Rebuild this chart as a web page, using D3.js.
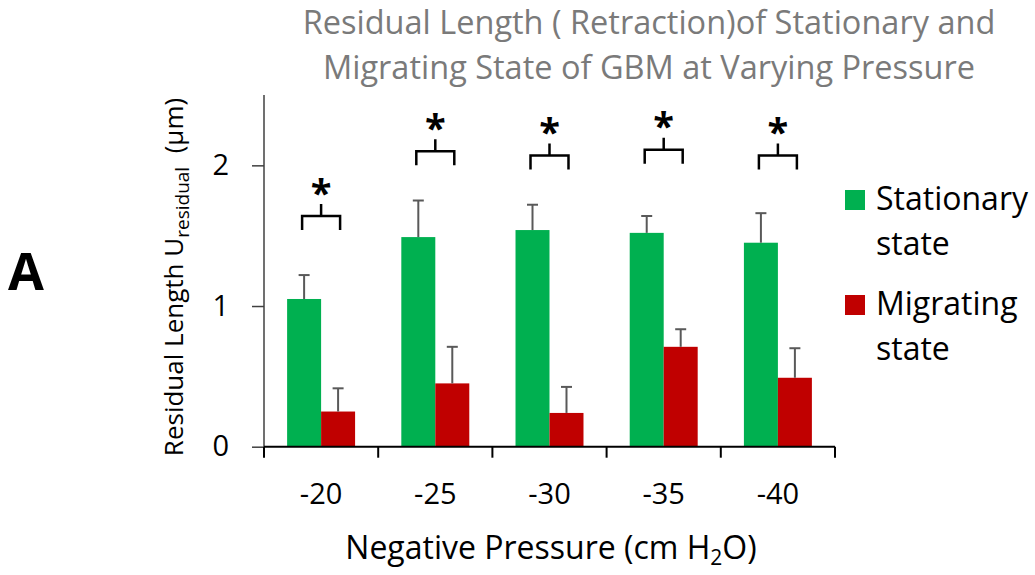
<!DOCTYPE html>
<html>
<head>
<meta charset="utf-8">
<script src="https://cdn.jsdelivr.net/npm/d3@7/dist/d3.min.js"></script>
<style>
  html, body { margin: 0; padding: 0; background: #fff; }
  svg { display: block; }
  text { font-family: "Open Sans", Lato, sans-serif; }
</style>
</head>
<body>
<svg id="chart" width="1035" height="575"></svg>
<script>
// Pressure levels (cm H2O) and per-state mean residual length with error (µm)
const categories = ["-20", "-25", "-30", "-35", "-40"];
const seriesNames = ["Stationary state", "Migrating state"];
const stationary = [1.05, 1.49, 1.54, 1.52, 1.45];
const stationaryErr = [0.17, 0.26, 0.18, 0.12, 0.21];
const migrating = [0.25, 0.45, 0.24, 0.71, 0.49];
const migratingErr = [0.165, 0.26, 0.185, 0.125, 0.21];
// Height of each significance bracket, in axis units
const bracketLevel = [1.64, 2.10, 2.07, 2.11, 2.07];
const yTicks = [0, 1, 2];

const colors = ["#00B050", "#C00000"];
const svg = d3.select("#chart");

const plotLeft = 264, plotRight = 835, plotTop = 95, plotBottom = 446.7;

const x = d3.scaleBand().domain(categories).range([plotLeft, plotRight]).paddingInner(0).paddingOuter(0);
const inner = d3.scaleBand().domain(seriesNames).range([0, x.bandwidth()]).paddingInner(0).paddingOuter(0.68);
const y = d3.scaleLinear().domain([0, 2.5]).range([plotBottom, plotTop]);

const rows = categories.map((c, i) => ({
  cat: c,
  vals: [
    { s: seriesNames[0], v: stationary[i], e: stationaryErr[i], c: colors[0] },
    { s: seriesNames[1], v: migrating[i], e: migratingErr[i], c: colors[1] }
  ],
  bracket: bracketLevel[i]
}));

// Bars
const g = svg.append("g");
rows.forEach(r => {
  r.vals.forEach(d => {
    g.append("rect")
      .attr("x", x(r.cat) + inner(d.s)).attr("y", y(d.v))
      .attr("width", inner.bandwidth()).attr("height", y(0) - y(d.v))
      .attr("fill", d.c);
  });
});

// Error bars (upper only)
rows.forEach(r => {
  r.vals.forEach(d => {
    const cx = x(r.cat) + inner(d.s) + inner.bandwidth() / 2;
    g.append("line").attr("x1", cx).attr("x2", cx)
      .attr("y1", y(d.v)).attr("y2", y(d.v + d.e))
      .attr("stroke", "#595959").attr("stroke-width", 2);
    g.append("line").attr("x1", cx - 5.5).attr("x2", cx + 5.5)
      .attr("y1", y(d.v + d.e)).attr("y2", y(d.v + d.e))
      .attr("stroke", "#595959").attr("stroke-width", 2);
  });
});

// Significance brackets with asterisks
rows.forEach(r => {
  const x0 = x(r.cat) + inner(seriesNames[0]) + inner.bandwidth() / 2 - 2;
  const x1 = x(r.cat) + inner(seriesNames[1]) + inner.bandwidth() / 2 + 2;
  const yb = y(r.bracket);
  const mid = (x0 + x1) / 2;
  g.append("path")
    .attr("d", `M${x0},${yb + 14}V${yb}H${x1}V${yb + 14}M${mid},${yb}V${yb - 12}`)
    .attr("fill", "none").attr("stroke", "#000").attr("stroke-width", 2.5);
  g.append("text").attr("x", mid).attr("y", yb - 14)
    .attr("text-anchor", "middle").attr("font-size", 38).attr("font-weight", 700)
    .attr("font-family", "Lato, sans-serif")
    .attr("dy", "0.62em").attr("transform", `translate(0,-19)`)
    .text("*");
});

// Y axis
const yAxis = svg.append("g").attr("transform", `translate(${plotLeft},0)`)
  .call(d3.axisLeft(y).tickValues(yTicks).tickFormat(d3.format("d")).tickSize(12).tickPadding(23));
yAxis.select(".domain").attr("d", `M0,${plotTop}V${plotBottom}`).attr("stroke", "#404040").attr("stroke-width", 1.5);
yAxis.selectAll(".tick line").attr("stroke", "#404040").attr("stroke-width", 1.5);
yAxis.selectAll(".tick text").attr("font-size", 29).attr("fill", "#000").attr("font-family", "'Open Sans', sans-serif");

// X axis with ticks at category boundaries
const xAxis = svg.append("g").attr("transform", `translate(0,${plotBottom})`);
xAxis.append("line").attr("x1", plotLeft).attr("x2", plotRight).attr("y1", 0).attr("y2", 0)
  .attr("stroke", "#000").attr("stroke-width", 2);
const boundaries = categories.map(c => x(c)).concat([plotRight]);
xAxis.selectAll("line.tk").data(boundaries).enter().append("line")
  .attr("class", "tk").attr("x1", d => d).attr("x2", d => d).attr("y1", 0).attr("y2", 11)
  .attr("stroke", "#000").attr("stroke-width", 2);
xAxis.selectAll("text.lbl").data(categories).enter().append("text")
  .attr("class", "lbl").attr("x", d => x(d) + x.bandwidth() / 2).attr("y", 57)
  .attr("text-anchor", "middle").attr("font-size", 29).attr("fill", "#000").text(d => d);

// Axis titles
const xt = svg.append("text").attr("x", 551).attr("y", 559).attr("text-anchor", "middle")
  .attr("font-size", 32).attr("fill", "#000");
xt.append("tspan").text("Negative Pressure (cm H");
xt.append("tspan").attr("font-size", 21).attr("dy", 6).text("2");
xt.append("tspan").attr("dy", -6).text("O)");

const yt = svg.append("text").attr("transform", "translate(183,277) rotate(-90)")
  .attr("text-anchor", "middle").attr("font-size", 26).attr("fill", "#000");
yt.append("tspan").text("Residual Length U");
yt.append("tspan").attr("font-size", 19).attr("dy", 6).text("residual");
yt.append("tspan").attr("dy", -6).text("\u00a0\u00a0(\u03bcm)");

// Title
const title = svg.append("text").attr("text-anchor", "middle").attr("font-size", 32.5).attr("fill", "#7a7a7a");
title.append("tspan").attr("x", 649).attr("y", 34).text("Residual Length ( Retraction)of Stationary and");
title.append("tspan").attr("x", 649).attr("y", 79).text("Migrating State of GBM at Varying Pressure");

// Legend
const legendItems = [
  { lines: ["Stationary", "state"], c: colors[0], y0: 190 },
  { lines: ["Migrating", "state"], c: colors[1], y0: 295 }
];
legendItems.forEach(it => {
  svg.append("rect").attr("x", 845).attr("y", it.y0).attr("width", 20).attr("height", 20).attr("fill", it.c);
  it.lines.forEach((t, k) => {
    svg.append("text").attr("x", 876).attr("y", it.y0 + 20 + k * 45)
      .attr("font-size", 32).attr("fill", "#000").text(t);
  });
});

// Panel letter
svg.append("text").attr("x", 8).attr("y", 290).attr("font-size", 52).attr("font-weight", 700)
  .attr("font-family", "Liberation Sans, Arial, sans-serif").attr("fill", "#000").text("A");
</script>
</body>
</html>
